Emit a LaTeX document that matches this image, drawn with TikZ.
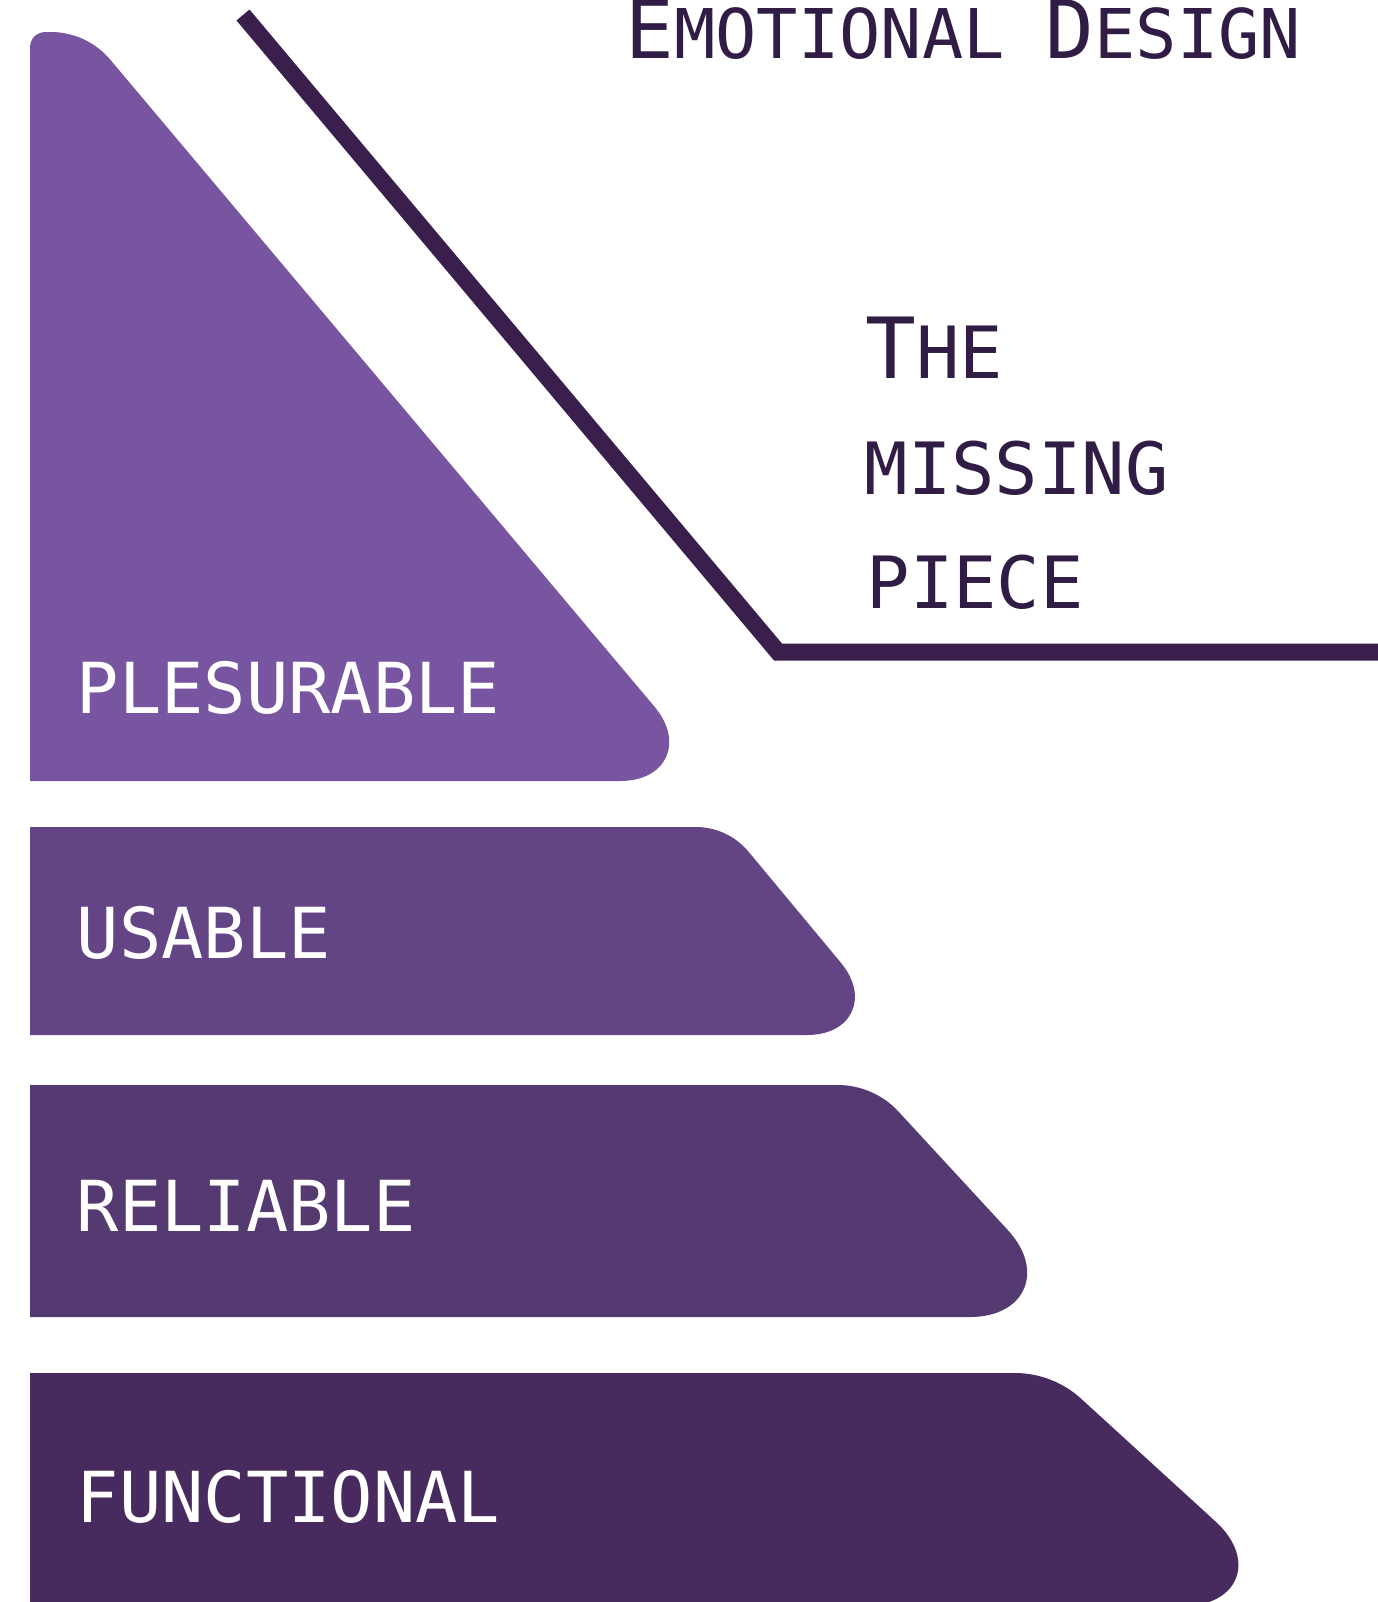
\documentclass[tikz,border=0pt]{standalone}
\usepackage{fontspec}
\setmonofont{DejaVu Sans Mono}
\usetikzlibrary{calc}
\definecolor{cA}{HTML}{7855A0}
\definecolor{cB}{HTML}{634585}
\definecolor{cC}{HTML}{553971}
\definecolor{cD}{HTML}{472B5F}
\definecolor{cLine}{HTML}{3A1E4C}
\definecolor{cText}{HTML}{301C45}
% rounded corner at #1, coming from #2, going to #3, cut distance #4 (cm), control distance factor #5 (from corner)
\newcommand\rcorner[5]{-- ($(#1)!#4cm!(#2)$) .. controls ($(#1)!#5*#4cm!(#2)$) and ($(#1)!#5*#4cm!(#3)$) .. ($(#1)!#4cm!(#3)$)}
\newcommand\bigc[1]{{\fontsize{24}{28}\selectfont #1}}
\newcommand\bigt[1]{{\fontsize{23}{28}\selectfont #1}}
\tikzset{
  lbl/.style={anchor=base west, inner sep=0pt, text=white, font=\ttfamily\fontsize{20}{24}\selectfont},
  ttl/.style={anchor=base west, inner sep=0pt, text=cText, font=\ttfamily\fontsize{20.5}{24}\selectfont},
  ttlsmall/.style={anchor=base west, inner sep=0pt, text=cText, font=\ttfamily\fontsize{19.5}{24}\selectfont},
  bar/.style={draw=cLine, line width=0.17cm, line join=miter, line cap=butt}
}
\begin{document}
\begin{tikzpicture}[x=0.01cm, y=-0.01cm]
\useasboundingbox (0,0) rectangle (1378,1602);
\clip (0,0) rectangle (1378,1602);
% layer 1: pleasurable
\coordinate (a1) at (30,781);
\coordinate (a2) at (30,32);
\coordinate (a3) at (87,32);
\coordinate (a4) at (717,781);
\fill[cA] (a1) \rcorner{a2}{a1}{a3}{0.16}{0.40} \rcorner{a3}{a2}{a4}{0.36}{0.37} \rcorner{a4}{a3}{a1}{0.97}{0.52} -- cycle;
% layer 2: usable
\coordinate (b1) at (30,1035);
\coordinate (b2) at (30,827);
\coordinate (b3) at (728,827);
\coordinate (b4) at (901,1035);
\fill[cB] (b1) -- (b2) \rcorner{b3}{b2}{b4}{0.32}{0.37} \rcorner{b4}{b3}{b1}{0.94}{0.52} -- cycle;
% layer 3: reliable
\coordinate (c1) at (30,1317);
\coordinate (c2) at (30,1085);
\coordinate (c3) at (874,1085);
\coordinate (c4) at (1088,1317);
\fill[cC] (c1) -- (c2) \rcorner{c3}{c2}{c4}{0.36}{0.37} \rcorner{c4}{c3}{c1}{1.18}{0.53} -- cycle;
% layer 4: functional
\coordinate (d1) at (30,1606);
\coordinate (d2) at (30,1373);
\coordinate (d3) at (1053,1373);
\coordinate (d4) at (1308,1606);
\fill[cD] (d1) -- (d2) \rcorner{d3}{d2}{d4}{0.38}{0.36} \rcorner{d4}{d3}{d1}{1.25}{0.55} -- cycle;
% missing piece line
\coordinate (l1) at (243,15);
\coordinate (l2) at (778,652);
\coordinate (l3) at (1390,652);
\draw[bar] (l1) -- (l2) -- (l3);
% labels
\node[lbl] (plesurable) at (76,713) {PLESURABLE};
\node[lbl] (usable) at (76,958) {USABLE};
\node[lbl] (reliable) at (76,1231) {RELIABLE};
\node[lbl] (functional) at (76,1522) {FUNCTIONAL};
% titles
\node[ttlsmall] (title) at (625,58) {\bigt{E}MOTIONAL \bigt{D}ESIGN};
\node[ttl] (the) at (865,378) {\bigc{T}HE};
\node[ttl] (missing) at (864,494) {MISSING};
\node[ttl] (piece) at (866,608) {PIECE};
\end{tikzpicture}
\end{document}
